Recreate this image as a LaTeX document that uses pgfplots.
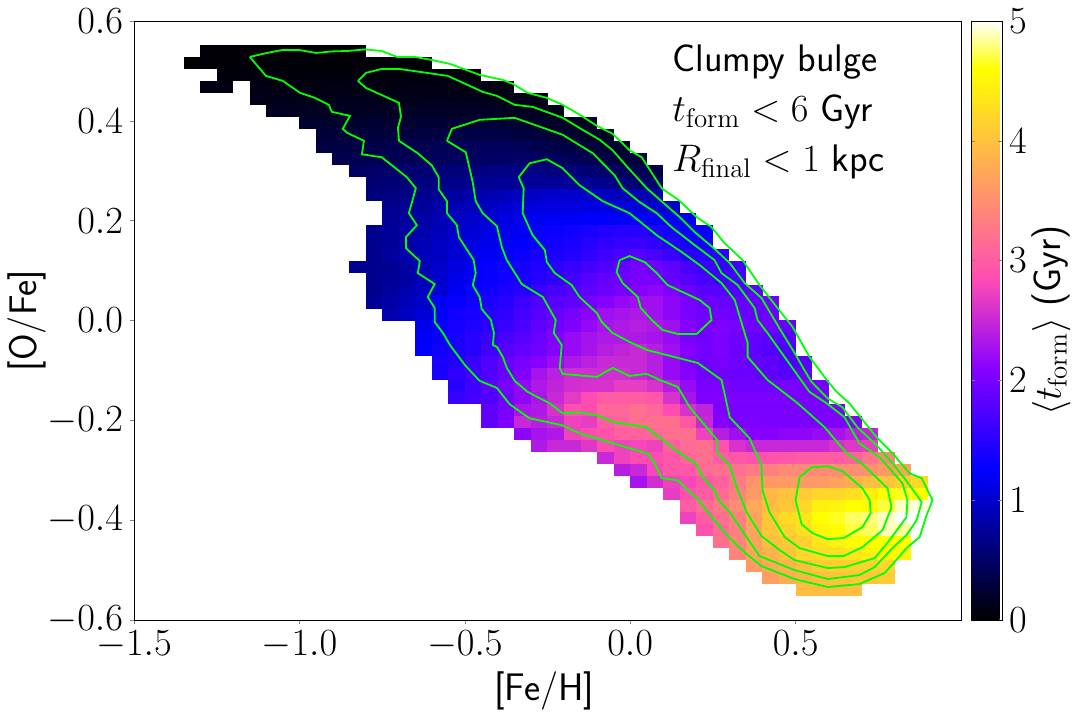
\RequirePackage{fix-cm}
\documentclass[border=0pt]{standalone}
\usepackage{pgfplots}
\usepackage{pgfplotstable}
\pgfplotsset{compat=1.18}
\usetikzlibrary{plotmarks}

\newcommand\bigfont{\fontsize{19.2}{23}\selectfont}

% one histogram bin: 0.05 dex wide, 0.024 dex high
\pgfdeclareplotmark{cell}{%
  \pgfpathrectangle{\pgfpoint{-4.16pt}{-3.02pt}}{\pgfpoint{8.32pt}{6.04pt}}%
  \pgfusepathqfill}

% mean formation time per bin: [Fe/H], [O/Fe], t_form
\pgfplotstableread{
x y t
-1.275 .54 .03
-1.225 .54 .03
-1.175 .54 .03
-1.125 .54 .03
-1.075 .54 .03
-1.025 .54 .03
-.975 .54 .03
-.925 .54 .03
-.875 .54 .03
-.825 .54 .03
-1.325 .516 .03
-1.275 .516 .03
-1.225 .516 .03
-1.175 .516 .03
-1.125 .516 .03
-1.075 .516 .03
-1.025 .516 .03
-.975 .516 .03
-.925 .516 .03
-.875 .516 .03
-.825 .516 .03
-.775 .516 .04
-.725 .516 .04
-.675 .516 .04
-.625 .516 .04
-1.225 .492 .06
-1.175 .492 .06
-1.125 .492 .06
-1.075 .492 .06
-1.025 .492 .06
-.975 .492 .06
-.925 .492 .06
-.875 .492 .06
-.825 .492 .06
-.775 .492 .06
-.725 .492 .06
-.675 .492 .06
-.625 .492 .06
-.575 .492 .06
-.525 .492 .06
-.475 .492 .06
-1.275 .468 .09
-1.225 .468 .09
-1.125 .468 .09
-1.075 .468 .09
-1.025 .468 .09
-.975 .468 .09
-.925 .468 .09
-.875 .468 .09
-.825 .468 .09
-.775 .468 .09
-.725 .468 .09
-.675 .468 .09
-.625 .468 .09
-.575 .468 .09
-.525 .468 .09
-.475 .468 .09
-.425 .468 .09
-.375 .468 .08
-1.125 .444 .12
-1.075 .444 .12
-1.025 .444 .12
-.975 .444 .12
-.925 .444 .13
-.875 .444 .13
-.825 .444 .13
-.775 .444 .13
-.725 .444 .13
-.675 .444 .13
-.625 .444 .13
-.575 .444 .13
-.525 .444 .13
-.475 .444 .13
-.425 .444 .12
-.375 .444 .12
-.325 .444 .11
-.275 .444 .11
-1.075 .42 .15
-1.025 .42 .15
-.975 .42 .16
-.925 .42 .16
-.875 .42 .17
-.825 .42 .17
-.775 .42 .18
-.725 .42 .18
-.675 .42 .18
-.625 .42 .19
-.575 .42 .19
-.525 .42 .19
-.475 .42 .19
-.425 .42 .18
-.375 .42 .17
-.325 .42 .16
-.275 .42 .15
-.225 .42 .14
-.975 .396 .22
-.925 .396 .22
-.875 .396 .23
-.825 .396 .23
-.775 .396 .24
-.725 .396 .24
-.675 .396 .25
-.625 .396 .25
-.575 .396 .26
-.525 .396 .26
-.475 .396 .27
-.425 .396 .27
-.375 .396 .25
-.325 .396 .23
-.275 .396 .22
-.225 .396 .2
-.175 .396 .18
-.125 .396 .17
-.925 .372 .28
-.875 .372 .29
-.825 .372 .3
-.775 .372 .3
-.725 .372 .31
-.675 .372 .32
-.625 .372 .33
-.575 .372 .33
-.525 .372 .34
-.475 .372 .35
-.425 .372 .35
-.375 .372 .34
-.325 .372 .32
-.275 .372 .3
-.225 .372 .27
-.175 .372 .24
-.125 .372 .22
-.075 .372 .2
-.925 .348 .33
-.875 .348 .34
-.825 .348 .35
-.775 .348 .36
-.725 .348 .38
-.675 .348 .39
-.625 .348 .4
-.575 .348 .41
-.525 .348 .43
-.475 .348 .44
-.425 .348 .45
-.375 .348 .44
-.325 .348 .42
-.275 .348 .38
-.225 .348 .35
-.175 .348 .33
-.125 .348 .3
-.075 .348 .27
-.025 .348 .24
-.875 .324 .38
-.825 .324 .39
-.775 .324 .4
-.725 .324 .41
-.675 .324 .43
-.625 .324 .44
-.575 .324 .45
-.525 .324 .46
-.475 .324 .48
-.425 .324 .49
-.375 .324 .5
-.325 .324 .5
-.275 .324 .48
-.225 .324 .46
-.175 .324 .44
-.125 .324 .4
-.075 .324 .35
-.025 .324 .3
.025 .324 .28
-.825 .3 .48
-.775 .3 .5
-.725 .3 .52
-.675 .3 .54
-.625 .3 .56
-.575 .3 .58
-.525 .3 .6
-.475 .3 .62
-.425 .3 .64
-.375 .3 .65
-.325 .3 .65
-.275 .3 .64
-.225 .3 .62
-.175 .3 .6
-.125 .3 .57
-.075 .3 .53
-.025 .3 .47
.025 .3 .42
.075 .3 .35
-.775 .276 .55
-.725 .276 .57
-.675 .276 .59
-.625 .276 .62
-.575 .276 .65
-.525 .276 .68
-.475 .276 .7
-.425 .276 .72
-.375 .276 .75
-.325 .276 .75
-.275 .276 .75
-.225 .276 .75
-.175 .276 .75
-.125 .276 .72
-.075 .276 .68
-.025 .276 .6
.025 .276 .57
.075 .276 .55
-.775 .252 .6
-.725 .252 .63
-.675 .252 .66
-.625 .252 .7
-.575 .252 .74
-.525 .252 .78
-.475 .252 .83
-.425 .252 .87
-.375 .252 .9
-.325 .252 .93
-.275 .252 .97
-.225 .252 1
-.175 .252 1
-.125 .252 .98
-.075 .252 .95
-.025 .252 .9
.025 .252 .88
.075 .252 .85
-.725 .228 .68
-.675 .228 .72
-.625 .228 .76
-.575 .228 .82
-.525 .228 .88
-.475 .228 .92
-.425 .228 .96
-.375 .228 1.02
-.325 .228 1.06
-.275 .228 1.08
-.225 .228 1.1
-.175 .228 1.1
-.125 .228 1.1
-.075 .228 1.1
-.025 .228 1.1
.025 .228 1.08
.075 .228 1.02
.125 .228 1
-.725 .204 .72
-.675 .204 .78
-.625 .204 .82
-.575 .204 .88
-.525 .204 .95
-.475 .204 1
-.425 .204 1.05
-.375 .204 1.1
-.325 .204 1.15
-.275 .204 1.18
-.225 .204 1.2
-.175 .204 1.22
-.125 .204 1.25
-.075 .204 1.25
-.025 .204 1.25
.025 .204 1.25
.075 .204 1.22
.125 .204 1.2
.175 .204 1.18
-.775 .18 .7
-.725 .18 .75
-.675 .18 .8
-.625 .18 .85
-.575 .18 .9
-.525 .18 .98
-.475 .18 1.05
-.425 .18 1.1
-.375 .18 1.15
-.325 .18 1.22
-.275 .18 1.3
-.225 .18 1.32
-.175 .18 1.35
-.125 .18 1.4
-.075 .18 1.45
-.025 .18 1.48
.025 .18 1.5
.075 .18 1.45
.125 .18 1.38
.175 .18 1.32
.225 .18 1.3
-.775 .156 .7
-.725 .156 .75
-.675 .156 .8
-.625 .156 .88
-.575 .156 .95
-.525 .156 1.02
-.475 .156 1.1
-.425 .156 1.15
-.375 .156 1.2
-.325 .156 1.25
-.275 .156 1.3
-.225 .156 1.35
-.175 .156 1.4
-.125 .156 1.48
-.075 .156 1.55
-.025 .156 1.58
.025 .156 1.6
.075 .156 1.55
.125 .156 1.45
.175 .156 1.4
.225 .156 1.4
-.775 .132 .7
-.725 .132 .78
-.675 .132 .85
-.625 .132 .9
-.575 .132 .95
-.525 .132 1.05
-.475 .132 1.15
-.425 .132 1.2
-.375 .132 1.25
-.325 .132 1.32
-.275 .132 1.4
-.225 .132 1.42
-.175 .132 1.45
-.125 .132 1.55
-.075 .132 1.65
-.025 .132 1.72
.025 .132 1.8
.075 .132 1.7
.125 .132 1.6
.175 .132 1.5
.225 .132 1.5
.275 .132 1.55
-.825 .108 .7
-.775 .108 .7
-.725 .108 .72
-.675 .108 .8
-.625 .108 .9
-.575 .108 1
-.525 .108 1.1
-.475 .108 1.2
-.425 .108 1.28
-.375 .108 1.35
-.325 .108 1.4
-.275 .108 1.45
-.225 .108 1.52
-.175 .108 1.6
-.125 .108 1.68
-.075 .108 1.75
-.025 .108 1.88
.025 .108 2
.075 .108 1.95
.125 .108 1.85
.175 .108 1.7
.225 .108 1.62
.275 .108 1.6
.325 .108 1.68
-.775 .084 .7
-.725 .084 .75
-.675 .084 .8
-.625 .084 .9
-.575 .084 1
-.525 .084 1.15
-.475 .084 1.22
-.425 .084 1.3
-.375 .084 1.35
-.325 .084 1.4
-.275 .084 1.48
-.225 .084 1.55
-.175 .084 1.68
-.125 .084 1.8
-.075 .084 1.88
-.025 .084 1.95
.025 .084 2
.075 .084 2
.125 .084 1.9
.175 .084 1.8
.225 .084 1.7
.275 .084 1.65
.325 .084 1.7
-.775 .06 .7
-.725 .06 .78
-.675 .06 .85
-.625 .06 .95
-.575 .06 1.05
-.525 .06 1.2
-.475 .06 1.28
-.425 .06 1.35
-.375 .06 1.42
-.325 .06 1.5
-.275 .06 1.6
-.225 .06 1.7
-.175 .06 1.78
-.125 .06 1.85
-.075 .06 1.92
-.025 .06 2
.025 .06 2.08
.075 .06 2.15
.125 .06 2.05
.175 .06 1.92
.225 .06 1.82
.275 .06 1.8
.325 .06 1.78
.375 .06 1.85
-.775 .036 .75
-.725 .036 .82
-.675 .036 .9
-.625 .036 1
-.575 .036 1.2
-.525 .036 1.28
-.475 .036 1.35
-.425 .036 1.42
-.375 .036 1.5
-.325 .036 1.62
-.275 .036 1.75
-.225 .036 1.8
-.175 .036 1.85
-.125 .036 1.98
-.075 .036 2.1
-.025 .036 2.18
.025 .036 2.25
.075 .036 2.25
.125 .036 2.15
.175 .036 2
.225 .036 1.92
.275 .036 1.9
.325 .036 1.88
.375 .036 1.9
.425 .036 1.95
-.725 .012 .85
-.675 .012 .95
-.625 .012 1.05
-.575 .012 1.25
-.525 .012 1.35
-.475 .012 1.4
-.425 .012 1.48
-.375 .012 1.55
-.325 .012 1.68
-.275 .012 1.8
-.225 .012 1.9
-.175 .012 2
-.125 .012 2.12
-.075 .012 2.25
-.025 .012 2.3
.025 .012 2.35
.075 .012 2.25
.125 .012 2.15
.175 .012 2
.225 .012 1.95
.275 .012 1.95
.325 .012 1.92
.375 .012 1.9
.425 .012 1.95
-.625 -.012 1.15
-.575 -.012 1.3
-.525 -.012 1.38
-.475 -.012 1.45
-.425 -.012 1.52
-.375 -.012 1.6
-.325 -.012 1.72
-.275 -.012 1.85
-.225 -.012 1.95
-.175 -.012 2.05
-.125 -.012 2.18
-.075 -.012 2.3
-.025 -.012 2.35
.025 -.012 2.4
.075 -.012 2.35
.125 -.012 2.25
.175 -.012 2.1
.225 -.012 2
.275 -.012 2.05
.325 -.012 2
.375 -.012 1.95
.425 -.012 1.95
.475 -.012 1.9
-.625 -.036 1.2
-.575 -.036 1.3
-.525 -.036 1.4
-.475 -.036 1.5
-.425 -.036 1.6
-.375 -.036 1.7
-.325 -.036 1.8
-.275 -.036 1.9
-.225 -.036 2.05
-.175 -.036 2.2
-.125 -.036 2.28
-.075 -.036 2.35
-.025 -.036 2.35
.025 -.036 2.35
.075 -.036 2.3
.125 -.036 2.2
.175 -.036 2
.225 -.036 1.95
.275 -.036 2.03
.325 -.036 1.95
.375 -.036 1.87
.425 -.036 1.83
.475 -.036 1.8
-.625 -.06 1.25
-.575 -.06 1.35
-.525 -.06 1.42
-.475 -.06 1.5
-.425 -.06 1.65
-.375 -.06 1.8
-.325 -.06 1.88
-.275 -.06 1.95
-.225 -.06 2.08
-.175 -.06 2.2
-.125 -.06 2.3
-.075 -.06 2.4
-.025 -.06 2.45
.025 -.06 2.5
.075 -.06 2.4
.125 -.06 2.25
.175 -.06 2.1
.225 -.06 1.98
.275 -.06 2.03
.325 -.06 1.93
.375 -.06 1.85
.425 -.06 1.77
.475 -.06 1.75
-.575 -.084 1.4
-.525 -.084 1.45
-.475 -.084 1.6
-.425 -.084 1.75
-.375 -.084 1.9
-.325 -.084 2
-.275 -.084 2.1
-.225 -.084 2.22
-.175 -.084 2.35
-.125 -.084 2.42
-.075 -.084 2.5
-.025 -.084 2.5
.025 -.084 2.5
.075 -.084 2.4
.125 -.084 2.2
.175 -.084 2.05
.225 -.084 1.95
.275 -.084 2
.325 -.084 1.95
.375 -.084 1.9
.425 -.084 1.85
.475 -.084 1.75
.525 -.084 1.8
-.575 -.108 1.4
-.525 -.108 1.55
-.475 -.108 1.65
-.425 -.108 1.75
-.375 -.108 1.9
-.325 -.108 2.05
-.275 -.108 2.3
-.225 -.108 2.42
-.175 -.108 2.55
-.125 -.108 2.55
-.075 -.108 2.55
-.025 -.108 2.55
.025 -.108 2.5
.075 -.108 2.4
.125 -.108 2.2
.175 -.108 2.1
.225 -.108 1.95
.275 -.108 1.95
.325 -.108 1.93
.375 -.108 1.9
.425 -.108 1.85
.475 -.108 1.8
.525 -.108 1.9
-.525 -.132 1.5
-.475 -.132 1.65
-.425 -.132 1.82
-.375 -.132 2
-.325 -.132 2.18
-.275 -.132 2.35
-.225 -.132 2.45
-.175 -.132 2.55
-.125 -.132 2.58
-.075 -.132 2.6
-.025 -.132 2.7
.025 -.132 2.7
.075 -.132 2.6
.125 -.132 2.4
.175 -.132 2.2
.225 -.132 2
.275 -.132 2.05
.325 -.132 1.95
.375 -.132 1.95
.425 -.132 1.95
.475 -.132 2
.525 -.132 2
.575 -.132 2
-.525 -.156 1.6
-.475 -.156 1.68
-.425 -.156 1.75
-.375 -.156 1.95
-.325 -.156 2.15
-.275 -.156 2.32
-.225 -.156 2.5
-.175 -.156 2.68
-.125 -.156 2.85
-.075 -.156 3
-.025 -.156 3
.025 -.156 3
.075 -.156 2.95
.125 -.156 2.6
.175 -.156 2.3
.225 -.156 2.05
.275 -.156 2.05
.325 -.156 2.03
.375 -.156 2.03
.425 -.156 2.03
.475 -.156 2.03
.525 -.156 2
.575 -.156 2.03
-.425 -.18 1.85
-.375 -.18 2
-.325 -.18 2.3
-.275 -.18 2.35
-.225 -.18 2.6
-.175 -.18 2.9
-.125 -.18 2.85
-.075 -.18 3.1
-.025 -.18 3.1
.025 -.18 3.2
.075 -.18 3.1
.125 -.18 2.85
.175 -.18 2.6
.225 -.18 2.45
.275 -.18 2.05
.325 -.18 2
.375 -.18 2
.425 -.18 2
.475 -.18 2
.525 -.18 2
.575 -.18 2
.625 -.18 2.05
-.425 -.204 1.85
-.375 -.204 2.05
-.325 -.204 2.5
-.275 -.204 2.4
-.225 -.204 2.5
-.175 -.204 2.75
-.125 -.204 2.7
-.075 -.204 3
-.025 -.204 3.1
.025 -.204 3.2
.075 -.204 3.2
.125 -.204 3.2
.175 -.204 2.95
.225 -.204 2.5
.275 -.204 2.1
.325 -.204 2.03
.375 -.204 2.03
.425 -.204 2.03
.475 -.204 2.03
.525 -.204 2.03
.575 -.204 2.03
.625 -.204 2.05
.675 -.204 2.1
-.325 -.228 2.15
-.275 -.228 2.3
-.225 -.228 2.35
-.175 -.228 2.75
-.125 -.228 2.85
-.075 -.228 2.9
-.025 -.228 3.05
.025 -.228 3.05
.075 -.228 3.1
.125 -.228 3.2
.175 -.228 3.2
.225 -.228 2.75
.275 -.228 2.4
.325 -.228 2.25
.375 -.228 2.1
.425 -.228 2.1
.475 -.228 2.15
.525 -.228 2.15
.575 -.228 2.2
.625 -.228 2.3
.675 -.228 2.4
.725 -.228 2.45
-.275 -.252 2.35
-.225 -.252 2.5
-.175 -.252 2.5
-.125 -.252 2.65
-.075 -.252 2.85
-.025 -.252 2.75
.025 -.252 2.8
.075 -.252 2.75
.125 -.252 3.05
.175 -.252 3.15
.225 -.252 3.2
.275 -.252 2.9
.325 -.252 2.6
.375 -.252 2.5
.425 -.252 2.5
.475 -.252 2.5
.525 -.252 2.5
.575 -.252 2.5
.625 -.252 2.6
.675 -.252 2.65
.725 -.252 2.7
-.075 -.276 2.5
-.025 -.276 2.75
.025 -.276 2.85
.075 -.276 2.85
.125 -.276 2.95
.175 -.276 3.1
.225 -.276 3.2
.275 -.276 3
.325 -.276 2.95
.375 -.276 2.9
.425 -.276 2.9
.475 -.276 2.95
.525 -.276 3
.575 -.276 3
.625 -.276 3
.675 -.276 3.05
.725 -.276 3.25
.775 -.276 3.4
-.025 -.3 2.4
.025 -.3 2.5
.075 -.3 2.8
.125 -.3 2.95
.175 -.3 2.95
.225 -.3 3.15
.275 -.3 3.2
.325 -.3 3.2
.375 -.3 3.3
.425 -.3 3.35
.475 -.3 3.45
.525 -.3 3.45
.575 -.3 3.45
.625 -.3 3.45
.675 -.3 3.5
.725 -.3 3.5
.775 -.3 3.6
.825 -.3 3.7
.025 -.324 2.3
.075 -.324 2.55
.125 -.324 2.75
.175 -.324 2.8
.225 -.324 2.95
.275 -.324 3.05
.325 -.324 3.3
.375 -.324 3.55
.425 -.324 3.6
.475 -.324 3.6
.525 -.324 3.6
.575 -.324 3.6
.625 -.324 3.7
.675 -.324 3.8
.725 -.324 3.95
.775 -.324 4
.825 -.324 4.1
.875 -.324 4.2
.125 -.348 2.7
.175 -.348 2.9
.225 -.348 3
.275 -.348 3.15
.325 -.348 3.35
.375 -.348 3.6
.425 -.348 3.9
.475 -.348 4
.525 -.348 4.1
.575 -.348 4.2
.625 -.348 4.2
.675 -.348 4.3
.725 -.348 4.45
.775 -.348 4.6
.825 -.348 4.65
.875 -.348 4.6
.175 -.372 3
.225 -.372 3.15
.275 -.372 3.3
.325 -.372 3.45
.375 -.372 3.75
.425 -.372 3.95
.475 -.372 4.05
.525 -.372 4.2
.575 -.372 4.45
.625 -.372 4.5
.675 -.372 4.6
.725 -.372 4.55
.775 -.372 4.7
.825 -.372 4.9
.875 -.372 4.95
.175 -.396 2.75
.225 -.396 3
.275 -.396 3.2
.325 -.396 3.35
.375 -.396 3.7
.425 -.396 4.05
.475 -.396 4.25
.525 -.396 4.35
.575 -.396 4.6
.625 -.396 4.65
.675 -.396 4.75
.725 -.396 4.8
.775 -.396 4.9
.825 -.396 5
.225 -.42 2.9
.275 -.42 3.15
.325 -.42 3.35
.375 -.42 3.7
.425 -.42 4.05
.475 -.42 4.15
.525 -.42 4.3
.575 -.42 4.5
.625 -.42 4.6
.675 -.42 4.7
.725 -.42 4.75
.775 -.42 4.9
.825 -.42 4.85
.275 -.444 3.2
.325 -.444 3.4
.375 -.444 3.7
.425 -.444 3.95
.475 -.444 4.05
.525 -.444 4.15
.575 -.444 4.35
.625 -.444 4.45
.675 -.444 4.55
.725 -.444 4.6
.775 -.444 4.6
.825 -.444 4.6
.325 -.468 3.4
.375 -.468 3.7
.425 -.468 3.85
.475 -.468 4
.525 -.468 4.2
.575 -.468 4.25
.625 -.468 4.3
.675 -.468 4.35
.725 -.468 4.45
.775 -.468 4.5
.825 -.468 4.5
.375 -.492 3.6
.425 -.492 3.75
.475 -.492 3.85
.525 -.492 3.95
.575 -.492 4.1
.625 -.492 4.12
.675 -.492 4.15
.725 -.492 4.15
.775 -.492 4.2
.425 -.516 3.65
.475 -.516 3.8
.525 -.516 3.88
.575 -.516 3.95
.625 -.516 4
.675 -.516 4.05
.725 -.516 4.05
.775 -.516 4.1
.525 -.54 3.95
.575 -.54 3.95
.625 -.54 3.95
.675 -.54 3.95
}\cells

\begin{document}
\begin{tikzpicture}
\path[use as bounding box] (0,0) rectangle (538pt,356.5pt);
\begin{axis}[
 at={(67pt,46.5pt)}, anchor=south west,
 scale only axis, width=413.5pt, height=299.5pt,
 xmin=-1.5, xmax=1.0,
 ymin=-0.6, ymax=0.6,
 xtick={-1.5,-1,-0.5,0,0.5},
 ytick={-0.6,-0.4,-0.2,0,0.2,0.4,0.6},
 tick align=outside, tick pos=left, major tick length=2pt,
 axis line style={line width=0.4pt},
 tick label style={font=\bigfont},
 xticklabel style={/pgf/number format/.cd,fixed,fixed zerofill,precision=1},
 yticklabel style={/pgf/number format/.cd,fixed,fixed zerofill,precision=1},
 scaled ticks=false,
 xlabel={\bigfont\sffamily [Fe/H]},
 ylabel={\bigfont\sffamily [O/Fe]},
 xlabel style={at={(axis description cs:0.496,-0.134)},anchor=base},
 ylabel style={at={(axis description cs:-0.118,0.5)},anchor=base},
 colormap={gnuplot2}{rgb(0cm)=(0,0,0); rgb(25cm)=(0,0,1); rgb(42cm)=(0.531,0,1);
   rgb(57cm)=(1,0.3,0.7); rgb(92cm)=(1,1,0); rgb(100cm)=(1,1,1)},
 point meta min=0, point meta max=5,
 colorbar,
 colorbar style={
   at={(parent axis.north east)}, anchor=north west, xshift=-3.5pt,
   width=15.5pt,
   ytick={0,1,2,3,4,5}, yticklabels={$0$,$1$,$2$,$3$,$4$,$5$},
   major tick length=2pt,
   ylabel={\bigfont$\langle t_{\rm form}\rangle$ \sffamily (Gyr)},
   ylabel style={at={(axis description cs:2.9,0.5)},anchor=base},
 },
]
\addplot[scatter, only marks, mark=cell, scatter src=explicit,
  forget plot] table[x=x,y=y,meta=t] {\cells};
\end{axis}

% density contours in a second axis, since marks would cover them otherwise
\begin{axis}[
 at={(67pt,46.5pt)}, anchor=south west,
 scale only axis, width=413.5pt, height=299.5pt,
 xmin=-1.5, xmax=1.0,
 ymin=-0.6, ymax=0.6,
 hide axis,
]
\addplot[green!100, line width=0.9pt, forget plot] coordinates {
(-1.15,.528)(-1.098,.536)(-1.05,.542)(-1.002,.542)(-.95,.536)(-.902,.539)(-.853,.54)(-.802,.543)
(-.751,.54)(-.705,.528)(-.651,.528)(-.6,.522)(-.545,.514)(-.455,.492)(-.385,.482)(-.355,.474)
(-.31,.456)(-.252,.446)(-.204,.432)(-.147,.41)(-.101,.39)(-.053,.374)(-.002,.341)(.035,.327)
(.095,.265)(.147,.241)(.201,.207)(.246,.187)(.285,.155)(.34,.121)(.391,.071)(.443,.027)
(.491,-.013)(.542,-.073)(.594,-.119)(.624,-.143)(.663,-.166)(.699,-.196)(.745,-.234)(.793,-.266)
(.844,-.306)(.881,-.316)(.914,-.36)(.896,-.39)(.875,-.434)(.835,-.456)(.799,-.484)(.769,-.506)
(.693,-.528)(.597,-.534)(.497,-.518)(.397,-.492)(.352,-.468)(.301,-.436)(.249,-.396)(.204,-.358)
(.165,-.334)(.144,-.32)(.095,-.316)(.074,-.286)(.053,-.266)(.029,-.262)(-.083,-.24)(-.153,-.226)
(-.174,-.22)(-.204,-.21)(-.304,-.196)(-.364,-.168)(-.403,-.135)(-.455,-.121)(-.5,-.089)(-.545,-.049)
(-.566,-.025)(-.591,-.003)(-.591,.025)(-.612,.047)(-.591,.073)(-.642,.095)(-.636,.119)(-.678,.145)
(-.678,.167)(-.645,.191)(-.669,.215)(-.648,.265)(-.675,.287)(-.751,.327)(-.811,.333)(-.805,.36)
(-.856,.376)(-.869,.384)(-.847,.41)(-.902,.418)(-.911,.432)(-.953,.446)(-.998,.456)(-1.05,.48)
(-1.101,.49)(-1.15,.528)};
\addplot[green!100, line width=0.9pt, forget plot] coordinates {
(-.823,.48)(-.799,.496)(-.751,.504)(-.699,.504)(-.551,.49)(-.446,.458)(-.403,.45)(-.349,.432)
(-.295,.428)(-.204,.406)(-.144,.382)(-.092,.362)(-.053,.341)(-.008,.307)(.05,.265)(.098,.237)
(.15,.207)(.195,.177)(.249,.147)(.301,.115)(.346,.075)(.397,.045)(.431,.007)(.458,-.023)
(.497,-.065)(.521,-.093)(.548,-.123)(.597,-.156)(.642,-.174)(.687,-.214)(.745,-.25)(.793,-.286)
(.829,-.316)(.86,-.344)(.881,-.364)(.866,-.4)(.835,-.43)(.793,-.456)(.739,-.494)(.693,-.51)
(.597,-.518)(.497,-.5)(.391,-.472)(.352,-.434)(.301,-.384)(.27,-.362)(.255,-.34)(.219,-.314)
(.198,-.286)(.15,-.266)(.068,-.224)(.05,-.214)(-.047,-.204)(-.101,-.19)(-.153,-.184)(-.204,-.186)
(-.243,-.166)(-.31,-.143)(-.349,-.121)(-.373,-.095)(-.385,-.073)(-.403,-.053)(-.415,-.049)(-.412,-.025)
(-.421,.001)(-.449,.023)(-.455,.047)(-.476,.071)(-.467,.095)(-.473,.121)(-.518,.167)(-.524,.191)
(-.554,.215)(-.554,.239)(-.579,.263)(-.579,.287)(-.6,.311)(-.642,.335)(-.699,.36)(-.702,.386)
(-.693,.408)(-.699,.436)(-.799,.466)(-.823,.48)};
\addplot[green!100, line width=0.9pt, forget plot] coordinates {
(-.554,.36)(-.539,.384)(-.455,.402)(-.349,.406)(-.204,.372)(-.113,.335)(-.047,.291)(-.023,.265)
(.029,.237)(.08,.215)(.125,.187)(.195,.151)(.255,.121)(.276,.095)(.325,.071)(.376,.025)
(.385,.001)(.415,-.025)(.473,-.079)(.542,-.143)(.594,-.166)(.648,-.194)(.693,-.246)(.754,-.274)
(.823,-.326)(.838,-.36)(.835,-.394)(.784,-.44)(.739,-.476)(.648,-.494)(.597,-.496)(.497,-.48)
(.452,-.46)(.397,-.432)(.352,-.384)(.322,-.334)(.301,-.29)(.264,-.266)(.264,-.24)(.18,-.174)
(.144,-.133)(.089,-.119)(.05,-.107)(-.002,-.111)(-.053,-.095)(-.101,-.113)(-.204,-.107)(-.213,-.095)
(-.207,-.049)(-.231,-.025)(-.225,.001)(-.264,.047)(-.328,.073)(-.373,.121)(-.388,.147)(-.403,.189)
(-.446,.215)(-.467,.239)(-.476,.277)(-.497,.337)(-.554,.36)};
\addplot[green!100, line width=0.9pt, forget plot] coordinates {
(-.337,.287)(-.304,.315)(-.252,.323)(-.204,.305)(-.153,.271)(-.083,.239)(-.002,.215)(.08,.171)
(.156,.137)(.21,.111)(.276,.075)(.316,.041)(.334,.001)(.355,-.045)(.355,-.073)(.415,-.119)
(.503,-.164)(.588,-.214)(.654,-.266)(.699,-.286)(.778,-.336)(.79,-.374)(.763,-.42)(.702,-.454)
(.645,-.472)(.597,-.472)(.512,-.456)(.467,-.434)(.421,-.384)(.4,-.34)(.397,-.29)(.361,-.236)
(.301,-.194)(.276,-.119)(.204,-.085)(.05,-.059)(-.002,-.043)(-.053,-.025)(-.086,-.003)(-.101,.015)
(-.153,.047)(-.177,.071)(-.228,.095)(-.252,.117)(-.258,.141)(-.295,.171)(-.325,.215)(-.322,.265)
(-.337,.287)};
\addplot[green!100, line width=0.9pt, forget plot] coordinates {
(-.032,.121)(-.002,.129)(.044,.117)(.08,.095)(.113,.071)(.165,.055)(.21,.041)(.24,.025)
(.246,.001)(.201,-.027)(.144,-.027)(.098,-.019)(.065,.001)(.032,.025)(.023,.047)(-.023,.075)
(-.041,.097)(-.032,.121)};
\addplot[green!100, line width=0.9pt, forget plot] coordinates {
(.5,-.36)(.512,-.314)(.548,-.294)(.597,-.292)(.642,-.302)(.702,-.336)(.724,-.36)(.727,-.386)
(.702,-.414)(.645,-.436)(.597,-.438)(.551,-.426)(.518,-.408)(.5,-.36)};
\end{axis}
\node[anchor=base west,inner sep=0pt] at (336pt,320.5pt) {\bigfont\sffamily Clumpy bulge};
\node[anchor=base west,inner sep=0pt] at (336pt,295.5pt) {\bigfont$t_{\rm form}<6$ \sffamily Gyr};
\node[anchor=base west,inner sep=0pt] at (336pt,270.5pt) {\bigfont$R_{\rm final}<1$ \sffamily kpc};
\end{tikzpicture}
\end{document}
